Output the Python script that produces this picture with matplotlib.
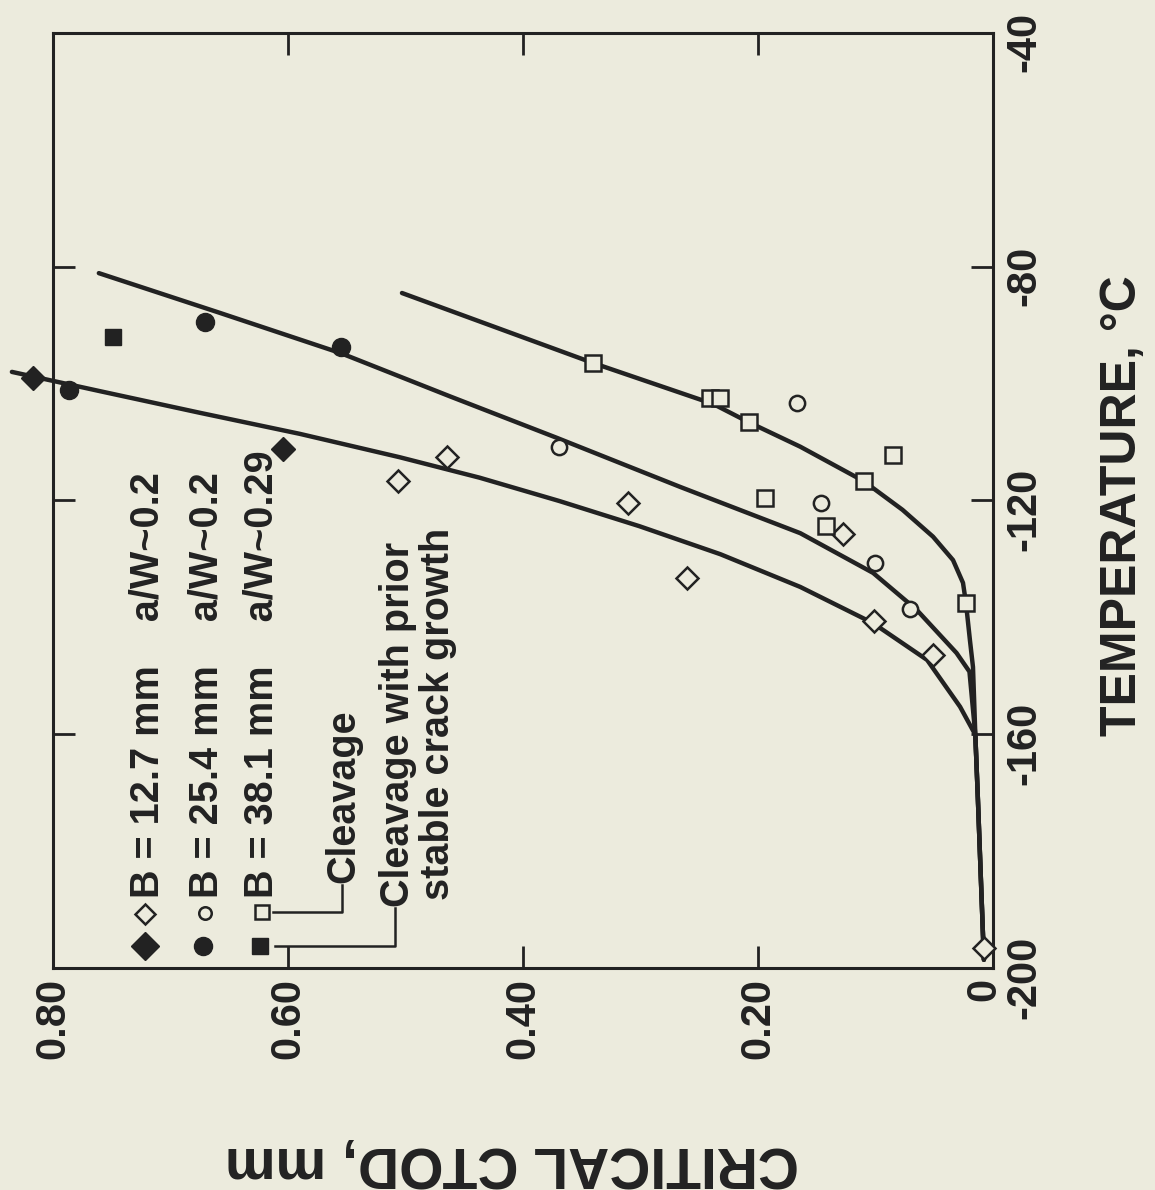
import matplotlib.pyplot as plt
from matplotlib.transforms import ScaledTranslation

plt.rcParams['font.family'] = ['Liberation Sans', 'DejaVu Sans']
plt.rcParams['font.weight'] = 'bold'

BG = '#ecebdd'
INK = '#222222'

# values read off the (rotated) figure: temperature in deg C, critical CTOD in mm
# B = 12.7 mm (diamonds)
t_12_cleav = [-116.7, -112.6, -120.4, -133.3, -125.7, -140.6, -146.4, -196.6]
c_12_cleav = [0.506, 0.465, 0.311, 0.260, 0.128, 0.101, 0.051, 0.008]
t_12_growth = [-99.0, -111.2]
c_12_growth = [0.817, 0.604]

# B = 25.4 mm (circles)
t_25_cleav = [-110.8, -103.3, -120.4, -130.7, -138.6]
c_25_cleav = [0.369, 0.167, 0.146, 0.100, 0.071]
t_25_growth = [-101.1, -89.5, -93.7]
c_25_growth = [0.786, 0.671, 0.555]

# B = 38.1 mm (squares)
t_38_cleav = [-96.5, -102.5, -102.5, -106.6, -119.6, -124.4, -116.7, -112.2, -137.5]
c_38_cleav = [0.340, 0.241, 0.232, 0.208, 0.194, 0.142, 0.110, 0.085, 0.023]
t_38_growth = [-92.0]
c_38_growth = [0.749]

# hand-drawn trend curves, traced point by point
t_fit_12 = [-98.0, -101.3, -105.0, -108.6, -112.6, -116.1, -120.1, -124.4,
            -129.2, -134.8, -141.0, -147.3, -155.3, -160.1, -171.2, -198.6]
c_fit_12 = [0.835, 0.760, 0.675, 0.590, 0.505, 0.437, 0.369, 0.301,
            0.232, 0.164, 0.102, 0.056, 0.028, 0.015, 0.0128, 0.0077]
t_fit_25 = [-81.1, -87.9, -94.8, -102.2, -109.3, -117.7, -125.6, -132.4,
            -138.7, -146.1, -149.3, -160.1, -171.2, -198.6]
c_fit_25 = [0.761, 0.658, 0.555, 0.462, 0.371, 0.266, 0.164, 0.102,
            0.065, 0.031, 0.020, 0.015, 0.0128, 0.0077]
t_fit_38 = [-84.5, -96.5, -103.5, -106.6, -110.8, -116.7, -121.6, -126.2,
            -130.2, -134.1, -137.5, -143.9, -148.5, -160.1, -171.2, -198.6]
c_fit_38 = [0.503, 0.340, 0.238, 0.208, 0.164, 0.110, 0.077, 0.051,
            0.034, 0.0255, 0.023, 0.0196, 0.017, 0.015, 0.0128, 0.0077]

ctod_ticks = [0.0, 0.2, 0.4, 0.6, 0.8]
ctod_labels = ['0', '0.20', '0.40', '0.60', '0.80']
temp_ticks = [-200, -160, -120, -80, -40]
temp_labels = ['-200', '-160', '-120', '-80', '-40']

fig = plt.figure(figsize=(11.55, 11.9), dpi=100, facecolor=BG)
ax = fig.add_axes([0.0459, 0.1866, 0.8138, 0.7857], facecolor=BG)

# the page is turned: CTOD runs right-to-left along the bottom,
# temperature runs upward on the right
for c, t in [(c_fit_12, t_fit_12), (c_fit_25, t_fit_25), (c_fit_38, t_fit_38)]:
    ax.plot(c, t, color=INK, lw=3.2, solid_capstyle='round', solid_joinstyle='round',
            clip_on=False, zorder=2)

op = dict(linestyle='none', mfc=BG, mec=INK, mew=1.8, zorder=3, clip_on=False)
fl = dict(linestyle='none', mfc=INK, mec=INK, zorder=3, clip_on=False)
ax.plot(c_12_cleav, t_12_cleav, marker='D', ms=11, **op)
ax.plot(c_25_cleav, t_25_cleav, marker='o', ms=11, **op)
ax.plot(c_38_cleav, t_38_cleav, marker='s', ms=12, **op)
ax.plot(c_12_growth, t_12_growth, marker='D', ms=12, **fl)
ax.plot(c_25_growth, t_25_growth, marker='o', ms=13, **fl)
ax.plot(c_38_growth, t_38_growth, marker='s', ms=11, **fl)

ax.set_xlim(0.8, 0.0)
ax.set_ylim(-200, -40)

ax.set_xticks(ctod_ticks)
ax.set_xticklabels(ctod_labels, rotation=90, fontsize=30, fontweight='bold', color=INK)
ax.set_yticks(temp_ticks)
ax.set_yticklabels(temp_labels, rotation=90, fontsize=30, fontweight='bold', color=INK)
ax.yaxis.tick_right()
ax.tick_params(axis='x', direction='in', length=16, width=2, top=True, bottom=True, pad=7, colors=INK)
ax.tick_params(axis='y', direction='in', length=16, width=2, left=True, right=True,
               labelleft=False, labelright=True, pad=8, colors=INK)
down = ScaledTranslation(0, -0.09, fig.dpi_scale_trans)
for lab in ax.get_yticklabels():
    lab.set_va('center')
    lab.set_transform(lab.get_transform() + down)
# the "0" sits a little left of the corner so it clears "-200"
zero = ax.get_xticklabels()[0]
zero.set_transform(zero.get_transform() + ScaledTranslation(-0.09, 0, fig.dpi_scale_trans))
for sp in ax.spines.values():
    sp.set_linewidth(2.2)
    sp.set_color(INK)

# key, written sideways inside the frame
tr = ax.transAxes
ax.plot([0.0979], [0.0235], marker='D', ms=14, transform=tr, **fl)
ax.plot([0.0979], [0.0580], marker='D', ms=10, transform=tr, **op)
ax.plot([0.1596], [0.0235], marker='o', ms=13, transform=tr, **fl)
ax.plot([0.1617], [0.0590], marker='o', ms=9, transform=tr, **op)
ax.plot([0.2202], [0.0235], marker='s', ms=11, transform=tr, **fl)
ax.plot([0.2223], [0.0600], marker='s', ms=10, transform=tr, **op)

kw = dict(rotation=90, ha='center', va='bottom', fontsize=28.5, fontweight='bold',
          color=INK, transform=tr)
ax.text(0.101, 0.0745, 'B = 12.7 mm    a/W~0.2', **kw)
ax.text(0.1638, 0.0745, 'B = 25.4 mm    a/W~0.2', **kw)
ax.text(0.2223, 0.0745, 'B = 38.1 mm    a/W~0.29', **kw)
ax.text(0.3085, 0.0909, 'Cleavage', **kw)
ax.text(0.367, 0.0652, 'Cleavage with prior', **kw)
ax.text(0.4096, 0.0727, 'stable crack growth', **kw)

ax.plot([0.234, 0.3074, 0.3074], [0.060, 0.060, 0.0888], color=INK, lw=1.8, transform=tr)
ax.plot([0.236, 0.3638, 0.3638], [0.0235, 0.0235, 0.0642], color=INK, lw=1.8, transform=tr)

fig.text(0.4433, 0.0235, 'CRITICAL CTOD, mm', rotation=180, ha='center', va='center',
         fontsize=41, fontweight='bold', color=INK)
fig.text(0.9723, 0.5748, 'TEMPERATURE, °C', rotation=90, ha='center', va='center',
         fontsize=36, fontweight='bold', color=INK)

fig.savefig('out.png', dpi=100, facecolor=BG)
